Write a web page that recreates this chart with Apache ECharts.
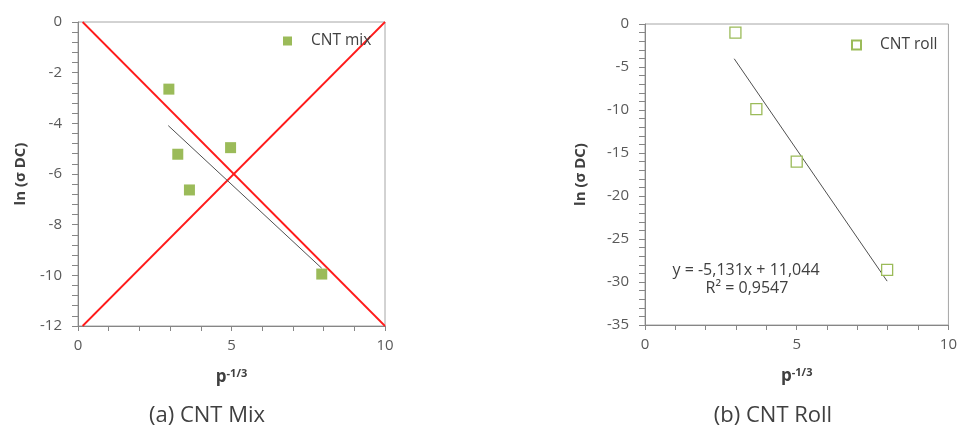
<!DOCTYPE html>
<html>
<head>
<meta charset="utf-8">
<script src="https://cdn.jsdelivr.net/npm/echarts@6/dist/echarts.min.js"></script>
<style>html,body{margin:0;padding:0;background:#fff;}#c{width:960px;height:427px;}</style>
</head>
<body>
<div id="c"></div>
<script>
// ---- data ----
var mixX = [2.96, 3.25, 3.63, 4.97, 7.94];
var mixY = [-2.65, -5.22, -6.63, -4.96, -9.95];
var mixTrend = [[2.94, -4.09], [7.94, -9.72]];
var redLineA = [[0.15, 0], [10, -12]];
var redLineB = [[0.15, -12], [10, 0]];

var rollX = [2.98, 3.67, 5.0, 7.98];
var rollY = [-1.0, -9.9, -16.0, -28.6];
var rollTrend = [[2.94, -4.04], [7.98, -29.9]];

var leftYTicks = { min: -12, max: 0, interval: 2 };
var rightYTicks = { min: -35, max: 0, interval: 5 };
var xTicks = { min: 0, max: 10, interval: 5 };

var seriesNames = ['CNT mix', 'CNT roll'];
var captions = ['(a) CNT Mix', '(b) CNT Roll'];
var equationText = ['y = -5,131x + 11,044', 'R\u00B2 = 0,9547'];
var yName = 'ln (\u03C3 DC)';

function pairs(xs, ys) { return xs.map(function (x, i) { return [x, ys[i]]; }); }

var green = '#9bbb59';
var axisGray = '#868686';
var txt = '#595959';
var font = 'Open Sans';

function makeX(gi) {
  return {
    type: 'value', gridIndex: gi, min: xTicks.min, max: xTicks.max, interval: xTicks.interval,
    name: '{p|p}{s|-1/3}', nameLocation: 'middle', nameGap: 42,
    nameTextStyle: { rich: {
      p: { fontFamily: font, fontWeight: 'bold', fontSize: 17, color: '#404040' },
      s: { fontFamily: font, fontWeight: 'bold', fontSize: 11, color: '#404040', padding: [0, 0, 8, 0] }
    } },
    axisLine: { show: true, onZero: false, lineStyle: { color: axisGray, width: 1 } },
    axisTick: { show: true, inside: false, length: 5, lineStyle: { color: axisGray } },
    minorTick: { show: true, splitNumber: 5, length: 5, lineStyle: { color: axisGray } },
    axisLabel: { color: txt, fontFamily: font, fontSize: 15, margin: 12 },
    splitLine: { show: false }, minorSplitLine: { show: false }
  };
}
function makeY(gi, t, gap) {
  return {
    type: 'value', gridIndex: gi, min: t.min, max: t.max, interval: t.interval,
    name: yName, nameLocation: 'middle', nameGap: gap, nameRotate: 90,
    nameTextStyle: { fontFamily: font, fontWeight: 'bold', fontSize: 15, color: '#404040' },
    axisLine: { show: true, onZero: false, lineStyle: { color: axisGray, width: 1 } },
    axisTick: { show: true, inside: false, length: 6, lineStyle: { color: axisGray } },
    minorTick: { show: true, splitNumber: 5, length: 6, lineStyle: { color: axisGray } },
    axisLabel: { color: txt, fontFamily: font, fontSize: 15, margin: 16 },
    splitLine: { show: false }, minorSplitLine: { show: false }
  };
}

var chart = echarts.init(document.getElementById('c'), null, { renderer: 'canvas' });
chart.setOption({
  backgroundColor: '#fff',
  animation: false,
  grid: [
    { left: 78, top: 22, width: 307, height: 304, show: true, borderColor: '#a6a6a6', borderWidth: 1, backgroundColor: 'transparent' },
    { left: 645, top: 24, width: 306, height: 301, show: true, borderColor: '#a6a6a6', borderWidth: 1, backgroundColor: 'transparent' }
  ],
  xAxis: [makeX(0), makeX(1)],
  yAxis: [makeY(0, leftYTicks, 50), makeY(1, rightYTicks, 57)],
  legend: [
    { data: [seriesNames[0]], left: 283, top: 33, padding: 0, itemWidth: 9, itemHeight: 9, icon: 'rect',
      textStyle: { fontFamily: font, fontSize: 15.5, color: '#404040', padding: [0, 0, 0, 14] } },
    { data: [seriesNames[1]], left: 851, top: 37, padding: 0, itemWidth: 9, itemHeight: 9, icon: 'rect',
      textStyle: { fontFamily: font, fontSize: 15.5, color: '#404040', padding: [0, 0, 0, 14] } }
  ],
  series: [
    { type: 'line', xAxisIndex: 0, yAxisIndex: 0, data: redLineA, symbol: 'none', silent: true,
      lineStyle: { color: '#ff1a1a', width: 1.8 }, z: 2 },
    { type: 'line', xAxisIndex: 0, yAxisIndex: 0, data: redLineB, symbol: 'none', silent: true,
      lineStyle: { color: '#ff1a1a', width: 1.8 }, z: 2 },
    { type: 'line', xAxisIndex: 0, yAxisIndex: 0, data: mixTrend, symbol: 'none', silent: true,
      lineStyle: { color: '#505050', width: 1 }, z: 3 },
    { name: seriesNames[0], type: 'scatter', xAxisIndex: 0, yAxisIndex: 0, data: pairs(mixX, mixY),
      symbol: 'rect', symbolSize: 11, itemStyle: { color: green, opacity: 1 }, z: 4 },
    { type: 'line', xAxisIndex: 1, yAxisIndex: 1, data: rollTrend, symbol: 'none', silent: true,
      lineStyle: { color: '#505050', width: 1 }, z: 3 },
    { name: seriesNames[1], type: 'scatter', xAxisIndex: 1, yAxisIndex: 1, data: pairs(rollX, rollY),
      symbol: 'rect', symbolSize: 11, itemStyle: { color: '#ffffff', borderColor: green, borderWidth: 1.3, opacity: 1 }, z: 4 }
  ],
  graphic: [
    { type: 'text', x: 207, y: 416, style: { text: captions[0], fontFamily: font, fontSize: 22, fill: '#404040', align: 'center', verticalAlign: 'middle' } },
    { type: 'text', x: 773, y: 416, style: { text: captions[1], fontFamily: font, fontSize: 22, fill: '#404040', align: 'center', verticalAlign: 'middle' } },
    { type: 'text', x: 746, y: 270, style: { text: equationText[0], fontFamily: font, fontSize: 16, fill: '#404040', align: 'center', verticalAlign: 'middle' } },
    { type: 'text', x: 747, y: 288, style: { text: equationText[1], fontFamily: font, fontSize: 16, fill: '#404040', align: 'center', verticalAlign: 'middle' } }
  ]
});
</script>
</body>
</html>
